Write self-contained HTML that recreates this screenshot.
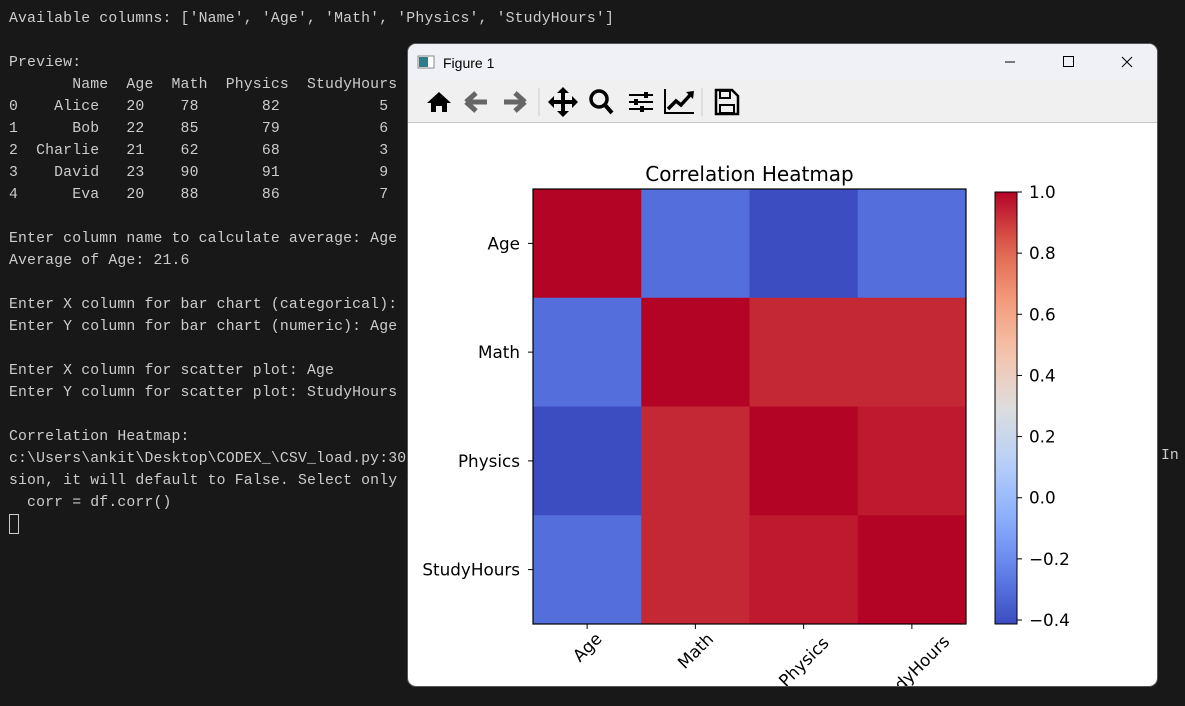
<!DOCTYPE html>
<html><head><meta charset="utf-8"><style>
body{margin:0;width:1185px;height:706px;background:#181818;overflow:hidden;position:relative;font-family:"Liberation Sans",sans-serif}
#term{position:absolute;left:9px;top:8px;font-family:"Liberation Mono",monospace;font-size:14.8px;letter-spacing:0.15px;line-height:22px;color:#cccccc;white-space:pre;margin:0}
#term2{position:absolute;left:1161px;top:448px;font-family:"Liberation Mono",monospace;font-size:14.8px;color:#cccccc}
#win{position:absolute;left:408px;top:44px;width:749px;height:642px;background:#fff;border-radius:8px;overflow:hidden;box-shadow:0 0 0 1px #555}
#titlebar{position:absolute;left:0;top:0;width:749px;height:36px;background:#eff1f6}
#toolbar{position:absolute;left:0;top:36px;width:749px;height:42px;background:#f0f0f0;border-bottom:1px solid #c8c8c8}
</style></head><body>
<pre id="term">Available columns: ['Name', 'Age', 'Math', 'Physics', 'StudyHours']

Preview:
       Name  Age  Math  Physics  StudyHours
0    Alice   20    78       82           5
1      Bob   22    85       79           6
2  Charlie   21    62       68           3
3    David   23    90       91           9
4      Eva   20    88       86           7

Enter column name to calculate average: Age
Average of Age: 21.6

Enter X column for bar chart (categorical): Name
Enter Y column for bar chart (numeric): Age

Enter X column for scatter plot: Age
Enter Y column for scatter plot: StudyHours

Correlation Heatmap:
c:\Users\ankit\Desktop\CODEX_\CSV_load.py:30
sion, it will default to False. Select only v
  corr = df.corr()
<span style="display:inline-block;width:8px;height:18px;border:1px solid #ccc;vertical-align:middle"></span></pre>
<div id="term2">In</div>
<div id="win">
 <div id="titlebar">
  <svg width="749" height="36" style="position:absolute;left:0;top:0">
   <rect x="10" y="12" width="16" height="12" fill="#fff" stroke="#888"/><rect x="11" y="13" width="9" height="10" fill="#2d7d8a"/>
   <text x="35" y="24" font-size="14" font-family="Liberation Sans,sans-serif" fill="#000">Figure 1</text>
   <line x1="597" y1="18" x2="607" y2="18" stroke="#000"/>
   <rect x="655.5" y="12.5" width="10" height="10" fill="none" stroke="#000"/>
   <path d="M714 13 L724 23 M724 13 L714 23" stroke="#000"/>
  </svg>
 </div>
 <div id="toolbar">
  <svg width="749" height="42" style="position:absolute;left:0;top:0">
   <g><path d="M19 23 L31 12 L43 23 L39 23 L39 32 L34 32 L34 26 L28 26 L28 32 L23 32 L23 23 Z" fill="#000"/></g>
   <g><path d="M58 22 L68 13 M58 22 L68 31 M58 22 L79 22" stroke="#666" stroke-width="5" fill="none"/></g>
   <g><path d="M117 22 L107 13 M117 22 L107 31 M117 22 L96 22" stroke="#666" stroke-width="5" fill="none"/></g>
   <line x1="131" y1="8" x2="131" y2="36" stroke="#ccc"/>
   <g><path d="M155 9 L155 35 M142 22 L168 22" stroke="#000" stroke-width="4"/><path d="M149 13 L155 7 L161 13 Z M149 31 L155 37 L161 31 Z M146 16 L140 22 L146 28 Z M164 16 L170 22 L164 28 Z" fill="#000"/></g>
   <g><circle cx="191" cy="19" r="8" stroke="#000" stroke-width="3.5" fill="none"/><line x1="197" y1="25" x2="204" y2="33" stroke="#000" stroke-width="4"/></g>
   <g><path d="M221 15 H245 M221 22 H245 M221 29 H245" stroke="#000" stroke-width="2"/><rect x="236" y="12" width="4" height="6" fill="#000"/><rect x="226" y="19" width="4" height="6" fill="#000"/><rect x="232" y="26" width="4" height="6" fill="#000"/></g>
   <g><path d="M257 9 V33 H286" stroke="#000" stroke-width="2" fill="none"/><path d="M260 29 L268 21 L273 25 L283 14" stroke="#000" stroke-width="3.5" fill="none"/><path d="M278 12 L286 11 L285 19 Z" fill="#000"/></g>
   <line x1="294" y1="8" x2="294" y2="36" stroke="#ccc"/>
   <g><path d="M308 10 H324 L330 16 V34 H308 Z" stroke="#000" stroke-width="2.5" fill="none"/><rect x="312" y="11" width="10" height="7" stroke="#000" stroke-width="2" fill="none"/><rect x="312" y="25" width="14" height="8" stroke="#000" stroke-width="2" fill="none"/></g>
  </svg>
 </div>
 <svg id="chart" width="749" height="564" style="position:absolute;left:0;top:78px"></svg>
</div>
<script>
const categories = ["Age","Math","Physics","StudyHours"];
const row0 = [1.00, -0.30, -0.41, -0.30];
const row1 = [-0.30, 1.00, 0.93, 0.93];
const row2 = [-0.41, 0.93, 1.00, 0.96];
const row3 = [-0.30, 0.93, 0.96, 1.00];
const colorbarTicks = [-0.4,-0.2,0.0,0.2,0.4,0.6,0.8,1.0];
const colorbarTickLabels = ["\u22120.4","\u22120.2","0.0","0.2","0.4","0.6","0.8","1.0"];
const vmin = -0.413, vmax = 1.0;
const matrix = [row0,row1,row2,row3];

const NS="http://www.w3.org/2000/svg";
const svg=document.getElementById('chart');
const OX=408, OY=122;
function mk(t,a,p){const e=document.createElementNS(NS,t);for(const k in a)e.setAttribute(k,a[k]);(p||svg).appendChild(e);return e;}
const anchors=[[0,59,76,192],[0.125,98,130,234],[0.25,141,176,254],[0.375,184,208,249],[0.5,221,221,221],[0.625,245,196,173],[0.75,244,154,123],[0.875,222,96,77],[1,180,4,38]];
function cmap(v){let t=(v-vmin)/(vmax-vmin);t=Math.max(0,Math.min(1,t));
 for(let i=1;i<anchors.length;i++){if(t<=anchors[i][0]){const a=anchors[i-1],b=anchors[i],f=(t-a[0])/(b[0]-a[0]);
 return `rgb(${[1,2,3].map(j=>Math.round(a[j]+(b[j]-a[j])*f)).join(',')})`;}}return 'rgb(180,4,38)';}
const hx0=533-OX, hx1=966-OX, hy0=189-OY, hy1=624-OY;
const n=categories.length;
function xS(i){return hx0+(hx1-hx0)*i/n;}
function yS(i){return hy0+(hy1-hy0)*i/n;}
matrix.forEach((row,r)=>row.forEach((v,c)=>{
 const e=mk('rect',{x:xS(c),y:yS(r),width:xS(c+1)-xS(c)+0.5,height:yS(r+1)-yS(r)+0.5,fill:cmap(v)});
 
 
}));
mk('rect',{x:hx0,y:hy0,width:hx1-hx0,height:hy1-hy0,fill:'none',stroke:'#000','stroke-width':1.2});
const tt=mk('text',{x:(hx0+hx1)/2,y:hy0-8,'text-anchor':'middle','font-size':20,'font-family':'DejaVu Sans,sans-serif'});
tt.textContent='Correlation Heatmap';


categories.forEach((c,i)=>{
 const cy=(yS(i)+yS(i+1))/2, cx=(xS(i)+xS(i+1))/2;
 mk('line',{x1:hx0-5,x2:hx0,y1:cy,y2:cy,stroke:'#000'});
 const yl=mk('text',{x:hx0-13,y:cy+6,'text-anchor':'end','font-size':16.8,'font-family':'DejaVu Sans,sans-serif'});
 yl.textContent=c;
 
 
 mk('line',{x1:cx,x2:cx,y1:hy1,y2:hy1+5,stroke:'#000'});
 const len=c.length*5.2;
 const tx=cx, ty=hy1+12+len*0.707+6;
 const xl=mk('text',{x:tx,y:ty,'text-anchor':'middle','font-size':16.8,'font-family':'DejaVu Sans,sans-serif',transform:`rotate(-45 ${tx} ${ty-6})`});
 xl.textContent=c;
 
 
});
// colorbar
const cbx0=995-OX, cbx1=1017-OX, cby0=192-OY, cby1=624-OY;
function cbY(v){return cby1-(v-vmin)/(vmax-vmin)*(cby1-cby0);}
const grad=mk('linearGradient',{id:'cbg',x1:0,y1:1,x2:0,y2:0},mk('defs',{}));
for(let k=0;k<=20;k++){const v=vmin+(vmax-vmin)*k/20;mk('stop',{offset:k/20,'stop-color':cmap(v)},grad);}
const cb=mk('rect',{x:cbx0,y:cby0,width:cbx1-cbx0,height:cby1-cby0,fill:'url(#cbg)',stroke:'#000','stroke-width':1});


colorbarTicks.forEach((v,i)=>{
 const y=cbY(v);
 mk('line',{x1:cbx1,x2:cbx1+5,y1:y,y2:y,stroke:'#000'});
 const l=mk('text',{x:cbx1+12,y:y+6,'font-size':16.8,'font-family':'DejaVu Sans,sans-serif'});
 l.textContent=colorbarTickLabels[i];
 
 
});
</script>
</body></html>
